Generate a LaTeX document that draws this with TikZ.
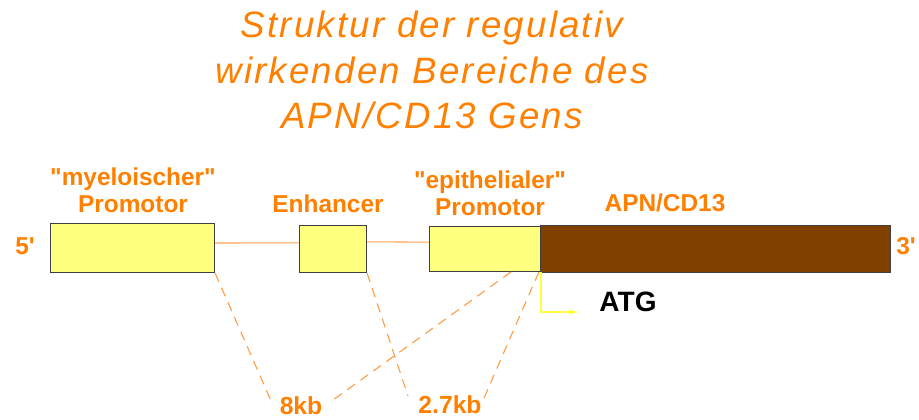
\documentclass[tikz,border=0pt]{standalone}
\usepackage{fontspec}
\setmainfont{Liberation Sans}[Ligatures=TeXOff]
\newfontfamily\ttlfont{Liberation Sans}[LetterSpace=6]
\usetikzlibrary{calc,arrows.meta}
\definecolor{orng}{HTML}{FF8000}
\definecolor{dashorng}{HTML}{FF9A40}
\definecolor{lineorng}{HTML}{FFA050}
\definecolor{boxyel}{HTML}{FFFF80}
\definecolor{brwn}{HTML}{804000}
\definecolor{arryel}{HTML}{FFFF40}
\begin{document}
\begin{tikzpicture}[x=0.75pt,y=-0.75pt,
  box/.style={draw=black!75,line width=0.8pt,fill=boxyel,anchor=north west,inner sep=0pt},
  gene/.style={draw=black!75,line width=0.8pt,fill=brwn,anchor=north west,inner sep=0pt},
  lbl/.style={text=orng,font=\bfseries\fontsize{18.3}{20}\selectfont,align=center,inner sep=1pt},
  ttl/.style={text=orng,font=\ttlfont\itshape\fontsize{27.5}{34}\selectfont,align=center},
  conn/.style={draw=lineorng,line width=0.8pt},
  dsh/.style={draw=dashorng,line width=0.8pt,dash pattern=on 7pt off 5pt},
  kb/.style={text=orng,font=\bfseries\fontsize{18.5}{20}\selectfont,inner sep=1pt}]
\useasboundingbox (0,0) rectangle (919,419);
% title
\node[ttl] (title) at (432,70) {Struktur der regulativ\\wirkenden Bereiche des\\APN/CD13 Gens};
% boxes
\node[box,minimum width=123pt,minimum height=36.75pt] (b1) at (50,223) {};
\node[box,minimum width=50.25pt,minimum height=35.25pt] (enh) at (299,225) {};
\node[box,minimum width=83.25pt,minimum height=33.75pt] (b3) at (429,226) {};
\node[gene,minimum width=262.5pt,minimum height=35.25pt] (gen) at (540,225) {};
% labels
\node[lbl] (l1) at (133,190) {"myeloischer"\\Promotor};
\node[lbl] (l2) at (328,204) {Enhancer};
\node[lbl] (l3) at (490,193) {"epithelialer"\\Promotor};
\node[lbl] (l4) at (665,203) {APN/CD13};
\node[lbl] (p5) at (25,246) {5'};
\node[lbl] (p3) at (906,246) {3'};
% connectors between boxes
\draw[conn] ($(b1.south east)!0.6!(b1.north east)$) -- ($(enh.south west)!0.63!(enh.north west)$);
\draw[conn] ($(enh.south east)!0.65!(enh.north east)$) -- ($(b3.south west)!0.65!(b3.north west)$);
% kb labels
\node[kb] (k8) at (301,406) {8kb};
\node[kb] (k27) at (450,405) {2.7kb};
\coordinate (k8l) at (272,403);
\coordinate (k8r) at (333,400);
\coordinate (k27l) at (408,396);
\coordinate (k27r) at (484,398);
\draw[dsh] (b1.south east) -- (k8l);
\draw[dsh] ($(b3.south west)!0.73!(b3.south east)$) -- (k8r);
\draw[dsh] (enh.south east) -- (k27l);
\draw[dsh] ($(b3.south west)!0.98!(b3.south east)$) -- (k27r);
% ATG
\node[text=black,font=\bfseries\fontsize{21}{23}\selectfont,inner sep=1pt] (atg) at (628,302) {ATG};
\coordinate (atgtip) at (578,312);
\draw[arryel,line width=0.9pt,-{Stealth[length=7pt,width=4pt]}] (b3.south east) |- (atgtip);
\end{tikzpicture}
\end{document}
